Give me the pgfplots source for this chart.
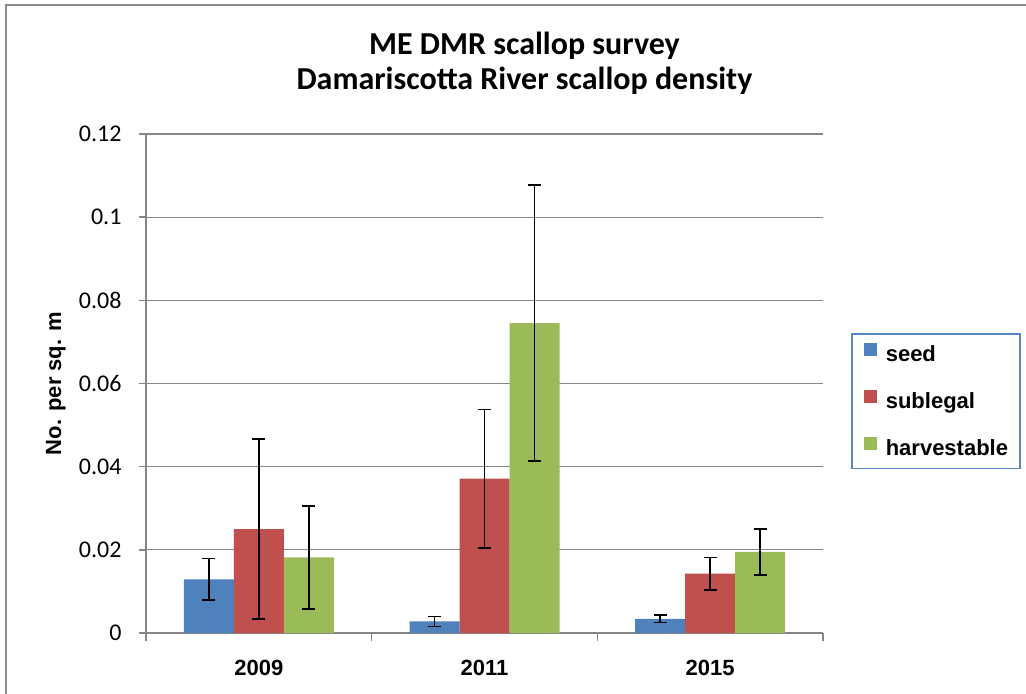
\documentclass[border=0pt]{standalone}
\usepackage{fontspec}
\usepackage{pgfplots}
\pgfplotsset{compat=1.18}
\usepackage{pgfplotstable}
\newfontfamily\calibri{Carlito}
\newfontfamily\arial{Liberation Sans}
\definecolor{seedc}{HTML}{4F81BD}
\definecolor{subc}{HTML}{C0504D}
\definecolor{harvc}{HTML}{9BBB59}
\definecolor{gridc}{HTML}{868686}
\definecolor{framec}{HTML}{8C8C8C}
\definecolor{legc}{HTML}{5B87C5}

% x: 0=2009, 1=2011, 2=2015; e = +/- error
\pgfplotstableread{
x y e
0 0.0129 0.0050
1 0.0028 0.0012
2 0.0034 0.0009
}\seed
\pgfplotstableread{
x y e
0 0.0250 0.0216
1 0.0371 0.0166
2 0.0143 0.0039
}\sublegal
\pgfplotstableread{
x y e
0 0.0182 0.0124
1 0.0745 0.0332
2 0.0195 0.0055
}\harvest

\pgfplotsset{errstyle/.style={
    error bars/y dir=both, error bars/y explicit,
    error bars/error bar style={draw=black, line width=0.8pt},
    error bars/error mark options={rotate=90, draw=black, line width=0.8pt, mark size=3.25pt}}}

\begin{document}
\begin{tikzpicture}
\useasboundingbox (0,0) rectangle (513pt,-347pt);
\draw[framec, line width=1pt] (3pt,-347pt) -- (3pt,-2.75pt) -- (513pt,-2.75pt);
\begin{axis}[
    at={(73pt,-316.5pt)}, anchor=south west,
    scale only axis,
    width=338.5pt, height=249.5pt,
    ybar=0pt, bar width=25pt,
    xmin=-0.5, xmax=2.5,
    ymin=0, ymax=0.12,
    ytick={0,0.02,...,0.12},
    scaled y ticks=false,
    /pgf/number format/fixed,
    /pgf/number format/precision=2,
    /pgf/number format/assume math mode=true,
    xtick={-0.5,0.5,1.5,2.5},
    xticklabels={},
    extra x ticks={0,1,2},
    extra x tick labels={2009,2011,2015},
    extra x tick style={major tick length=0pt, xmajorgrids=false,
        xticklabel style={yshift=-10pt}},
    axis x line*=bottom, axis y line*=left,
    axis line style={gridc, line width=0.75pt},
    tick style={gridc, line width=0.75pt},
    tick align=outside, major tick length=3.75pt,
    ymajorgrids, grid style={gridc, line width=0.6pt},
    yticklabel style={font=\calibri\fontsize{12}{14}\selectfont, xshift=-5pt},
    xticklabel style={font=\arial\bfseries\fontsize{11}{13}\selectfont},
    ylabel={No. per sq. m},
    ylabel style={font=\arial\bfseries\fontsize{11}{13}\selectfont,
        at={(axis description cs:-0.133,0.5)}, anchor=center},
    title={ME DMR scallop survey\\Damariscotta River scallop density},
    title style={font=\calibri\bfseries\fontsize{16}{17.5}\selectfont,
        align=center, at={(axis description cs:0.559,1.117)}, anchor=center},
    legend image code/.code={\fill[#1] (0pt,-0.25pt) rectangle (6.5pt,6.25pt);},
    legend cell align=left,
    legend style={at={(1.0414,0.6012)}, anchor=north west,
        draw=legc, line width=0.75pt,
        font=\arial\bfseries\fontsize{11}{13}\selectfont,
        nodes={inner sep=0pt, text height=8pt, text depth=2pt},
        row sep=12.25pt, column sep=4.5pt,
        inner xsep=6pt, inner ysep=4.5pt},
]
\addplot[fill=seedc, draw=none, errstyle] table[x=x, y=y, y error=e] {\seed};
\addplot[fill=subc, draw=none, errstyle] table[x=x, y=y, y error=e] {\sublegal};
\addplot[fill=harvc, draw=none, errstyle] table[x=x, y=y, y error=e] {\harvest};
\legend{seed, sublegal, harvestable}
\end{axis}
\end{tikzpicture}
\end{document}
